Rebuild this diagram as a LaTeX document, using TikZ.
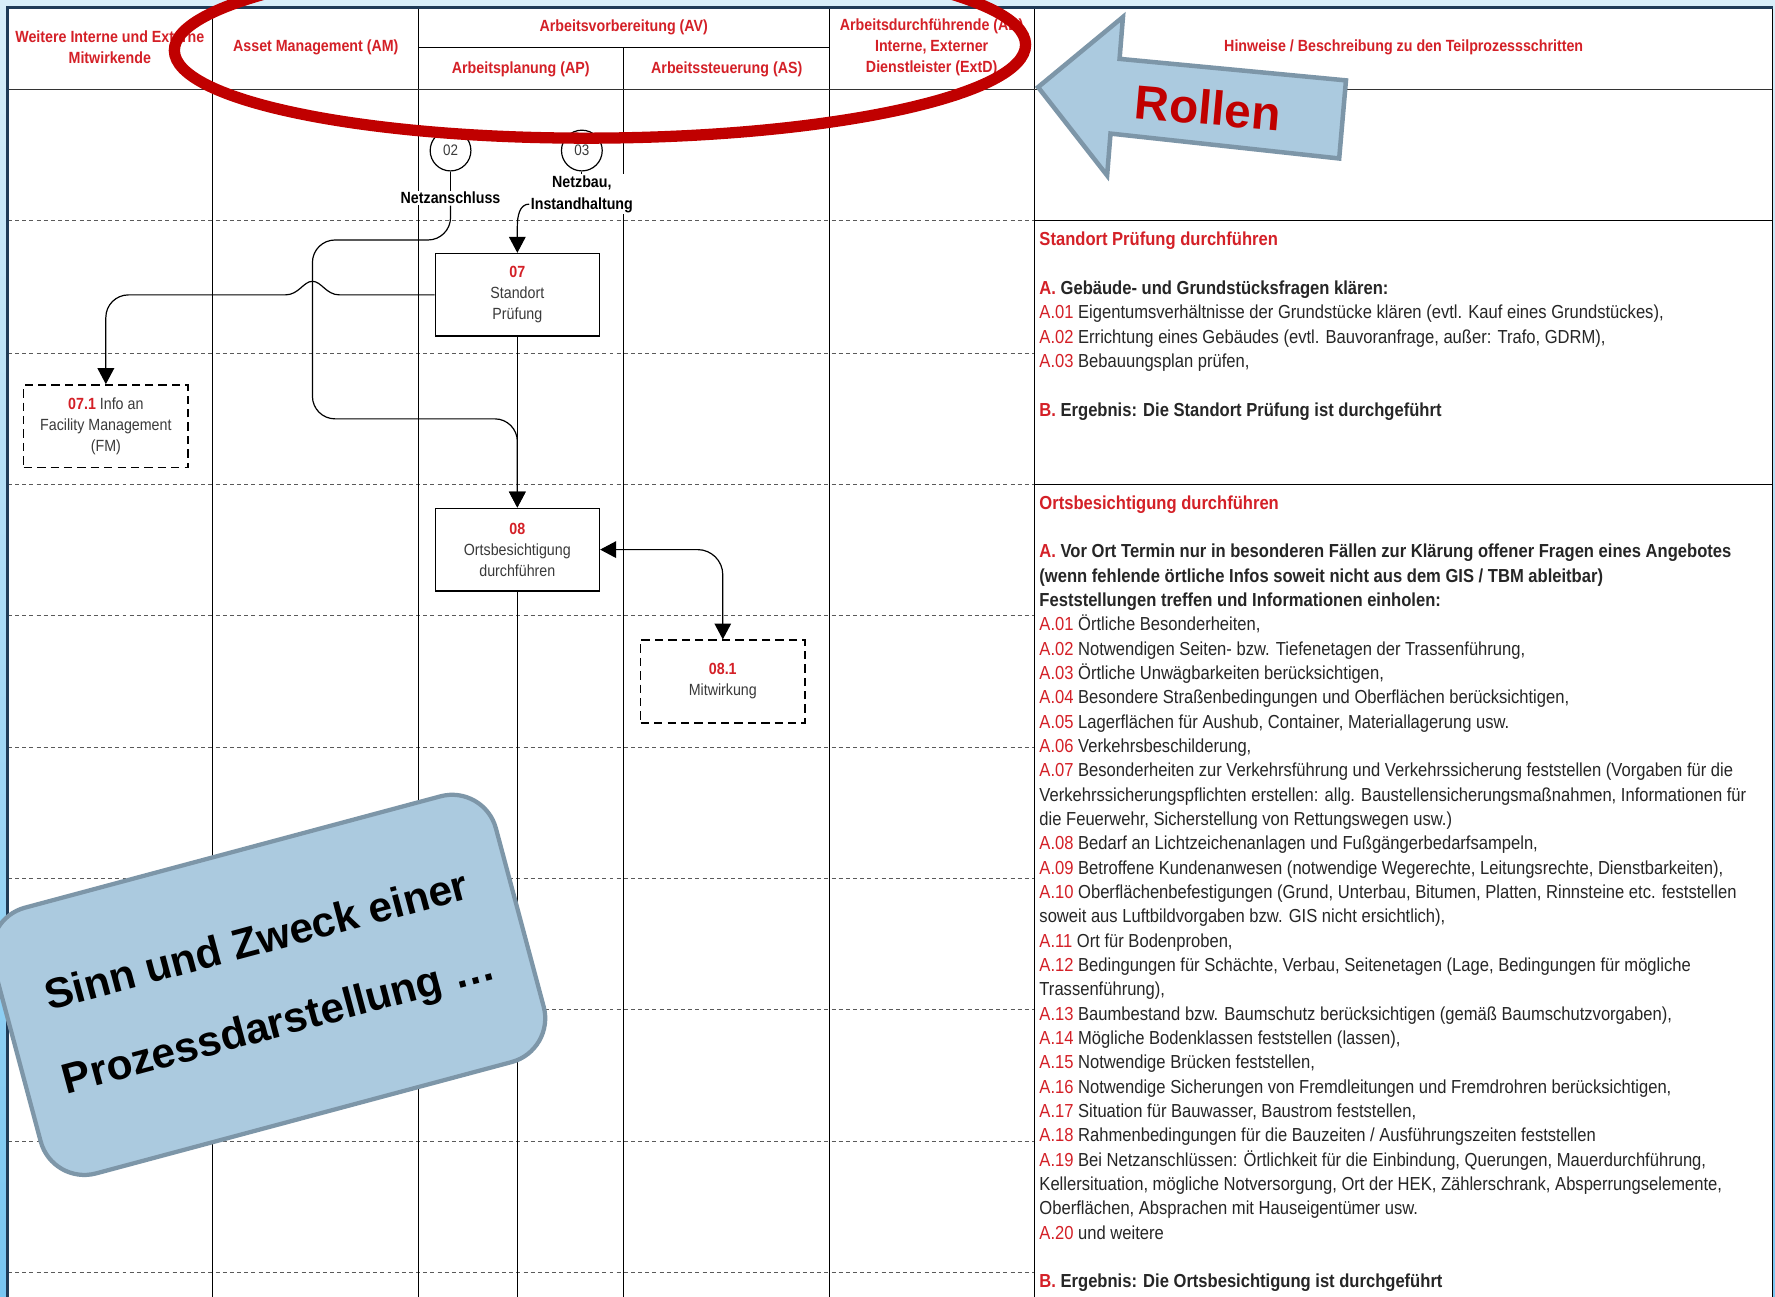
\documentclass[tikz,border=0pt]{standalone}
\usepackage{fontspec}
\setmainfont{Liberation Sans}
\newfontfamily\nar{Liberation Sans}[FakeStretch=0.88]
\usetikzlibrary{arrows.meta,calc}

\definecolor{procred}{HTML}{D42027}
\definecolor{bodytext}{HTML}{262626}
\definecolor{boxtext}{HTML}{3A3A3A}
\definecolor{navy}{HTML}{1F3B57}
\definecolor{ringred}{HTML}{C00000}
\definecolor{notefill}{HTML}{ABCADF}
\definecolor{noteline}{HTML}{7D96A8}
\definecolor{skytop}{HTML}{D8EEF9}
\definecolor{skybottom}{HTML}{78C6F2}
\definecolor{gridgrey}{HTML}{5A5A5A}

\newcommand{\rdmark}[1]{\textcolor{procred}{#1}}

\tikzset{
  lane/.style={line width=0.9pt, black},
  rowsep/.style={line width=0.8pt, gridgrey, dash pattern=on 3pt off 2.4pt},
  headtxt/.style={font=\nar\bfseries\fontsize{12.2}{15.8}\selectfont, text=procred, align=center, inner sep=0pt},
  procbox/.style={draw, line width=1.1pt, fill=white, minimum width=4.35cm, minimum height=2.19cm,
    inner sep=0pt, align=center, font=\nar\fontsize{12.2}{15.8}\selectfont, text=boxtext},
  optbox/.style={procbox, dash pattern=on 6.3pt off 3.8pt},
  refcircle/.style={circle, draw, line width=0.9pt, fill=white, minimum size=1.08cm, inner sep=0pt,
    font=\nar\fontsize{11.5}{13}\selectfont, text=boxtext},
  reflabel/.style={fill=white, inner sep=1pt, align=center, font=\nar\bfseries\fontsize{12.2}{16.2}\selectfont, text=black},
  conn/.style={line width=0.9pt, black},
  tip/.tip={Triangle[length=12pt,width=12.5pt]},
  flow/.style={conn, -tip},
  notes/.style={anchor=north west, inner sep=0pt, align=left, font=\nar\fontsize{14.2}{18.35}\selectfont, text=bodytext},
  notebox/.style={draw=noteline, fill=notefill, line width=3.2pt, rounded corners=1.2cm,
    minimum width=13.8cm, minimum height=7.29cm, align=center, text=black,
    font=\bfseries\fontsize{32}{64}\selectfont},
  rolearrow/.style={draw=noteline, fill=notefill, line width=3.4pt, line join=miter},
}

\begin{document}
\begin{tikzpicture}[x=0.03cm,y=-0.03cm]
  % page and slide background
  \useasboundingbox (0,0) rectangle (1568,1145);
  \clip (0,0) rectangle (1568,1145);
  \shade[top color=skytop, bottom color=skybottom] (0,0) rectangle (1568,1145);
  \fill[white] (7,7) rectangle (1566,1160);

  % swimlane grid
  \foreach \y in {195,312,428,544,660,776,892,1008,1124}
    \draw[rowsep] (7,\y) -- (914,\y);
  \foreach \x in {188,370,733,914}
    \draw[lane] (\x,7) -- (\x,1160);
  \draw[lane] (551,42) -- (551,1160);
  \draw[lane] (370,42) -- (733,42);
  \draw[line width=1.3pt, black!80] (7,79) -- (1566,79);
  \draw[line width=1.1pt] (914,195) -- (1566,195);
  \draw[line width=1.1pt] (914,428) -- (1566,428);
  \draw[line width=0.9pt] (1566,7) -- (1566,1160);
  \draw[navy, line width=2.2pt] (7,1160) -- (7,7) -- (1566,7);

  % column headers
  \node[headtxt] (hExt) at (97,41.5) {Weitere Interne und Externe\\Mitwirkende};
  \node[headtxt] (hAM) at (279,42) {Asset Management (AM)};
  \node[headtxt] (hAV) at (551,24) {Arbeitsvorbereitung (AV)};
  \node[headtxt] (hAP) at (460,61) {Arbeitsplanung (AP)};
  \node[headtxt] (hAS) at (642,61) {Arbeitssteuerung (AS)};
  \node[headtxt] (hAD) at (823,41.5) {Arbeitsdurchführende (AD)\\Interne, Externer\\Dienstleister (ExtD)};
  \node[headtxt] (hNotes) at (1240,42) {Hinweise / Beschreibung zu den Teilprozessschritten};

  % process references and steps
  \node[refcircle] (c02) at (398,133) {02};
  \node[refcircle] (c03) at (514,133) {03};
  \node[reflabel] (l02) at (398,175) {Netzanschluss};
  \node[reflabel] (l03) at (514,171.5) {Netzbau,\\Instandhaltung};

  \node[procbox] (n07) at (457,260.5) {\rdmark{\bfseries 07}\\Standort\\Prüfung};
  \node[optbox] (n071) at (93.5,376.5) {\rdmark{\bfseries 07.1} Info an\\Facility Management\\(FM)};
  \node[procbox] (n08) at (457,485.5) {\rdmark{\bfseries 08}\\Ortsbesichtigung\\durchführen};
  \node[optbox] (n081) at (638.5,602) {\rdmark{\bfseries 08.1}\\Mitwirkung};

  \coordinate (bendA) at (276,212);
  \coordinate (bendB) at (276,370);
  \coordinate (bendC) at (457,200);
  \coordinate (laneEnd) at (457,1160);
  \coordinate (hop) at (bendA |- n07.west);

  % connectors
  \draw[conn] (c02) -- (l02);
  \draw[conn] (c03) -- (l03);
  \draw[flow] ($(l03.west)!0.5!(l03.south west)$) to[out=180,in=90] (bendC) -- (n07.north);
  \draw[flow, rounded corners=17pt] (l02.south) |- (bendA) -- (bendB) -| (n08.north);
  \draw[flow] (n07.west) -- ($(hop)+(24,0)$)
     .. controls +(-12,0) and +(8,0) .. ($(hop)+(0,-12)$)
     .. controls +(-8,0) and +(12,0) .. ($(hop)+(-24,0)$)
     [rounded corners=17pt] -- (n071.north |- n07.west) -- (n071.north);
  \draw[flow] (n07.south) -- (n08.north);
  \draw[conn, tip-tip, rounded corners=19pt] (n08.east) -| (n081.north);
  \draw[conn] (n08.south) -- (laneEnd);

  % step descriptions
  \node[notes] (notes07) at (918,205) {%
    \rdmark{\bfseries Standort Prüfung durchführen}\\[18.35pt]
    {\bfseries\rdmark{A.} Gebäude- und Grundstücksfragen klären:}\\
    \rdmark{A.01} Eigentumsverhältnisse der Grundstücke klären (evtl. Kauf eines Grundstückes),\\
    \rdmark{A.02} Errichtung eines Gebäudes (evtl. Bauvoranfrage, außer: Trafo, GDRM),\\
    \rdmark{A.03} Bebauungsplan prüfen,\\[18.35pt]
    {\bfseries\rdmark{B.} Ergebnis: Die Standort Prüfung ist durchgeführt}};

  \node[notes] (notes08) at (918,437.5) {%
    \rdmark{\bfseries Ortsbesichtigung durchführen}\\[18.35pt]
    {\bfseries\rdmark{A.} Vor Ort Termin nur in besonderen Fällen zur Klärung offener Fragen eines Angebotes}\\
    {\bfseries (wenn fehlende örtliche Infos soweit nicht aus dem GIS / TBM ableitbar)}\\
    {\bfseries Feststellungen treffen und Informationen einholen:}\\
    \rdmark{A.01} Örtliche Besonderheiten,\\
    \rdmark{A.02} Notwendigen Seiten- bzw. Tiefenetagen der Trassenführung,\\
    \rdmark{A.03} Örtliche Unwägbarkeiten berücksichtigen,\\
    \rdmark{A.04} Besondere Straßenbedingungen und Oberflächen berücksichtigen,\\
    \rdmark{A.05} Lagerflächen für Aushub, Container, Materiallagerung usw.\\
    \rdmark{A.06} Verkehrsbeschilderung,\\
    \rdmark{A.07} Besonderheiten zur Verkehrsführung und Verkehrssicherung feststellen (Vorgaben für die\\
    Verkehrssicherungspflichten erstellen: allg. Baustellensicherungsmaßnahmen, Informationen für\\
    die Feuerwehr, Sicherstellung von Rettungswegen usw.)\\
    \rdmark{A.08} Bedarf an Lichtzeichenanlagen und Fußgängerbedarfsampeln,\\
    \rdmark{A.09} Betroffene Kundenanwesen (notwendige Wegerechte, Leitungsrechte, Dienstbarkeiten),\\
    \rdmark{A.10} Oberflächenbefestigungen (Grund, Unterbau, Bitumen, Platten, Rinnsteine etc. feststellen\\
    soweit aus Luftbildvorgaben bzw. GIS nicht ersichtlich),\\
    \rdmark{A.11} Ort für Bodenproben,\\
    \rdmark{A.12} Bedingungen für Schächte, Verbau, Seitenetagen (Lage, Bedingungen für mögliche\\
    Trassenführung),\\
    \rdmark{A.13} Baumbestand bzw. Baumschutz berücksichtigen (gemäß Baumschutzvorgaben),\\
    \rdmark{A.14} Mögliche Bodenklassen feststellen (lassen),\\
    \rdmark{A.15} Notwendige Brücken feststellen,\\
    \rdmark{A.16} Notwendige Sicherungen von Fremdleitungen und Fremdrohren berücksichtigen,\\
    \rdmark{A.17} Situation für Bauwasser, Baustrom feststellen,\\
    \rdmark{A.18} Rahmenbedingungen für die Bauzeiten / Ausführungszeiten feststellen\\
    \rdmark{A.19} Bei Netzanschlüssen: Örtlichkeit für die Einbindung, Querungen, Mauerdurchführung,\\
    Kellersituation, mögliche Notversorgung, Ort der HEK, Zählerschrank, Absperrungselemente,\\
    Oberflächen, Absprachen mit Hauseigentümer usw.\\
    \rdmark{A.20} und weitere\\[18.35pt]
    {\bfseries\rdmark{B.} Ergebnis: Die Ortsbesichtigung ist durchgeführt}};

  % red ring around the role headers
  \draw[ringred, line width=8.5pt, rotate around={0.4:(530,42)}]
    (530,42) ellipse [x radius=376, y radius=80];

  % "Rollen" pointer
  \draw[rolearrow] (917,77) -- (992,15) -- (989,52) -- (1189,71) -- (1183,140)
    -- (981,118) -- (978,155) -- cycle;
  \node[font=\bfseries\fontsize{36}{40}\selectfont, text=ringred, rotate=-5] (rollen) at (1067,95) {Rollen};

  % tilted note card
  \node[notebox, rotate=15] (purpose) at (237,870) {Sinn und Zweck einer\\Prozessdarstellung …};
\end{tikzpicture}
\end{document}
